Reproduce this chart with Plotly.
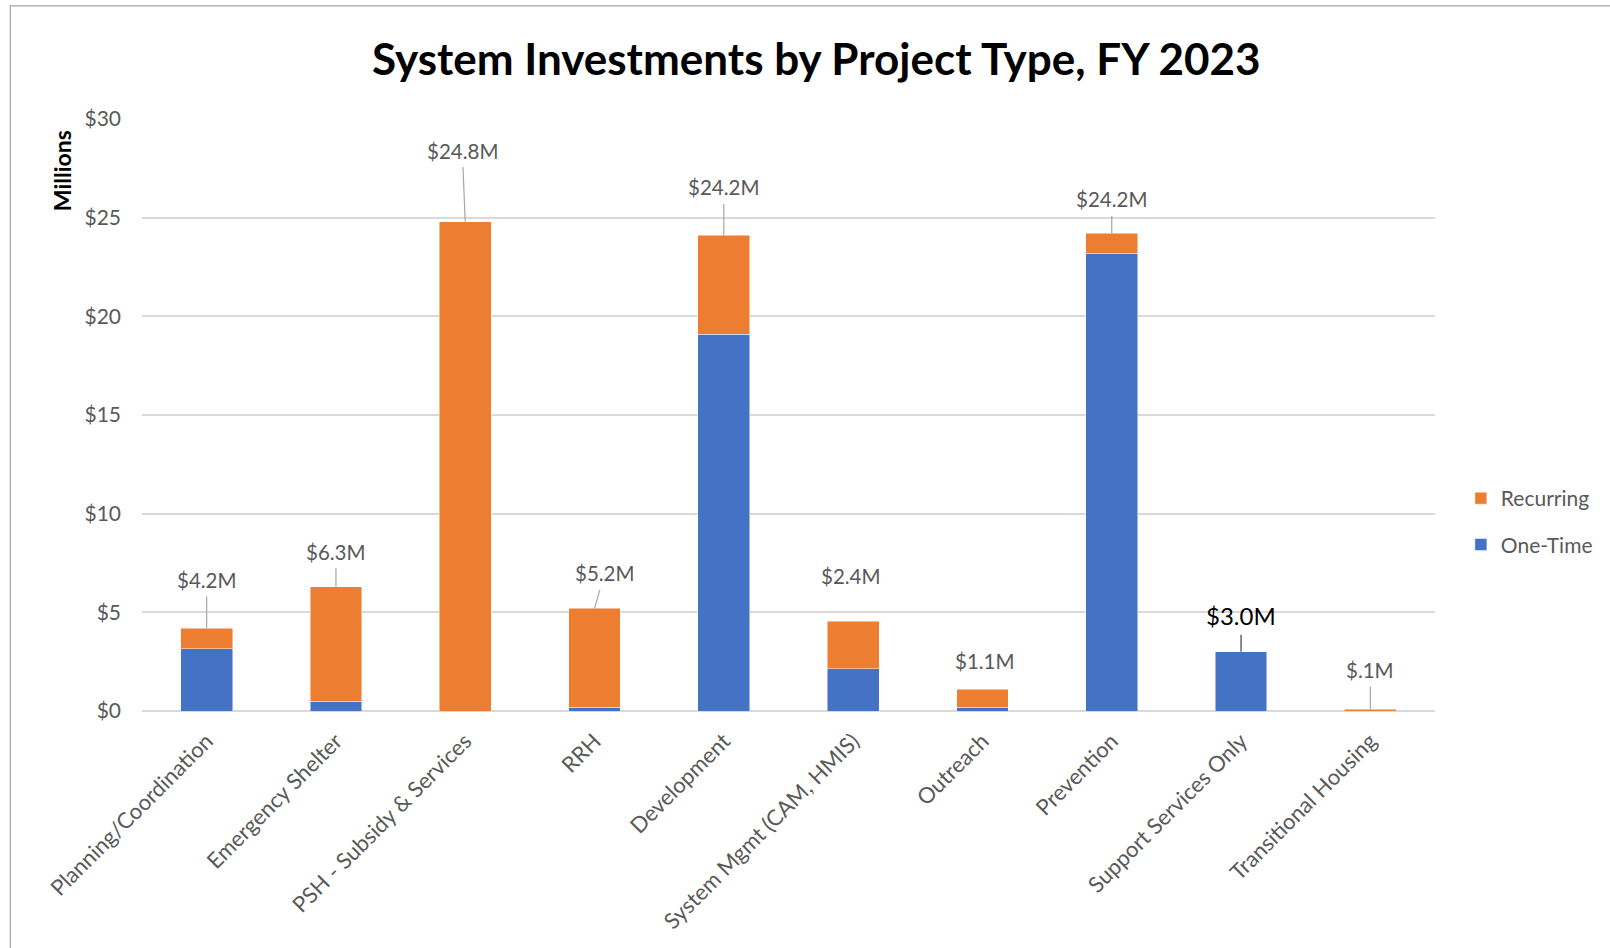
import plotly.graph_objects as go

categories = ["Planning/Coordination", "Emergency Shelter", "PSH - Subsidy & Services", "RRH",
              "Development", "System Mgmt (CAM, HMIS)", "Outreach", "Prevention",
              "Support Services Only", "Transitional Housing"]
one_time = [3.15, 0.5, 0.0, 0.2, 19.1, 2.15, 0.2, 23.2, 3.0, 0.0]
recurring = [1.05, 5.8, 24.8, 5.0, 5.0, 2.4, 0.9, 1.0, 0.0, 0.1]
labels = ["$4.2M", "$6.3M", "$24.8M", "$5.2M", "$24.2M", "$2.4M", "$1.1M", "$24.2M", "$3.0M", "$.1M"]
y_ticks = [0, 5, 10, 15, 20, 25, 30]
y_ticktext = ["$0", "$5", "$10", "$15", "$20", "$25", "$30"]

# label styling (pixel offsets, leader line on/off)
label_dx = [0, 0, -3, 10, 0, -2, 3, 0, 0, 0]
label_dy = [48, 35, 71, 35, 48, 45, 28, 34, 36, 39]
label_line = [True, True, True, True, True, False, False, True, True, True]

ORANGE = "#ED7D31"
BLUE = "#4472C4"
GREY = "#595959"
FONT = "Lato"

fig = go.Figure()
fig.add_trace(go.Bar(name="One-Time", x=categories, y=one_time, marker_color=BLUE,
                     marker_line=dict(color="rgba(255,255,255,0.6)", width=0.8),
                     legendgroup="a", legendrank=2))
fig.add_trace(go.Bar(name="Recurring", x=categories, y=recurring, marker_color=ORANGE,
                     marker_line=dict(color="rgba(255,255,255,0.6)", width=0.8),
                     legendgroup="b", legendrank=1))

totals = [a + b for a, b in zip(one_time, recurring)]
for i, cat in enumerate(categories):
    special = labels[i] == "$3.0M"
    color = "#000000" if special else GREY
    size = 24 if special else 20.5
    if label_line[i]:
        fig.add_annotation(x=cat, y=totals[i], text=labels[i], showarrow=True,
                           ax=label_dx[i], ay=-label_dy[i], arrowhead=0, arrowwidth=1.2,
                           arrowcolor="#404040" if special else "#A6A6A6", standoff=0,
                           borderpad=4, font=dict(family=FONT, size=size, color=color))
    else:
        fig.add_annotation(x=cat, y=totals[i], text=labels[i], showarrow=False,
                           xshift=label_dx[i], yshift=label_dy[i], yanchor="middle",
                           font=dict(family=FONT, size=size, color=color))

fig.add_annotation(xref="paper", yref="paper", x=-0.0618, y=0.912, text="<b>Millions</b>",
                   textangle=-90, showarrow=False, xanchor="center", yanchor="middle",
                   font=dict(family=FONT, size=23, color="#000000"))

# outer chart border
fig.add_shape(type="rect", xref="paper", yref="paper", x0=-0.1019, x1=1.141, y0=-0.42, y1=1.191,
              line=dict(color="#A6A6A6", width=1.2), fillcolor="rgba(0,0,0,0)", layer="below")

fig.update_layout(
    barmode="stack",
    bargap=0.6,
    width=1610, height=948,
    margin=dict(l=142, r=170, t=119, b=237),
    paper_bgcolor="white", plot_bgcolor="white",
    title=dict(text="<b>System Investments by Project Type, FY 2023</b>", x=0.507, xanchor="center",
               y=0.937, yanchor="middle", font=dict(family=FONT, size=44, color="#000000")),
    font=dict(family=FONT, color=GREY),
    legend=dict(traceorder="grouped", tracegroupgap=16, x=1.02, xanchor="left",
                y=0.32, yanchor="middle", font=dict(family=FONT, size=21, color=GREY),
                itemwidth=30, bgcolor="rgba(0,0,0,0)"),
    showlegend=True,
)
fig.update_xaxes(tickangle=-45, tickfont=dict(family=FONT, size=22, color=GREY),
                 showgrid=False, showline=False, ticks="", range=[-0.5, 9.5],
                 ticklabelstandoff=12)
fig.update_yaxes(range=[0, 30], tickvals=y_ticks, ticktext=y_ticktext,
                 tickfont=dict(family=FONT, size=21, color=GREY),
                 showgrid=True, gridcolor="#D9D9D9", gridwidth=1.5,
                 zeroline=True, zerolinecolor="#D9D9D9", zerolinewidth=1.5,
                 showline=False, ticks="", ticklabelstandoff=20)

fig.write_html("out.html")
